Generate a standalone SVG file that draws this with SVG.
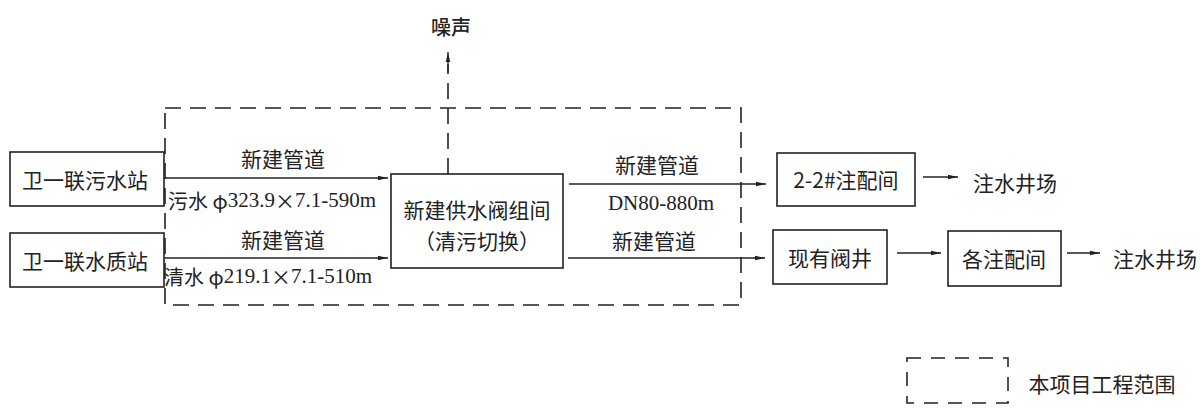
<svg xmlns="http://www.w3.org/2000/svg" width="1200" height="408" viewBox="0 0 1200 408">
<defs>
<style>
.box{fill:#fff;stroke:#222;stroke-width:1.6}
.dash{fill:none;stroke:#222;stroke-width:1.6;stroke-dasharray:16 9}
.ln{fill:none;stroke:#222;stroke-width:1.3}
.t{font-family:"Noto Sans CJK SC","Noto Sans",sans-serif;font-size:21px;fill:#222;text-anchor:middle;dominant-baseline:central}
.s{font-family:"Liberation Serif","Noto Sans CJK SC",serif;font-size:21px;fill:#222;dominant-baseline:central}
.c{font-family:"Noto Sans CJK SC",sans-serif;font-size:20px}
</style>
<marker id="ah" viewBox="0 0 10 6" refX="10" refY="3" markerWidth="10" markerHeight="6" markerUnits="userSpaceOnUse" orient="auto">
<path d="M0,0.8 L10,3 L0,5.2 Z" fill="#222"/>
</marker>
</defs>
<rect width="1200" height="408" fill="#fff"/>
<g id="scope">
<rect x="165" y="108" width="576" height="197" class="dash"/>
</g>
<g id="connectors">
<line x1="448" y1="174" x2="448" y2="64" class="dash"/>
<line x1="448" y1="72" x2="448" y2="52" class="ln" marker-end="url(#ah)"/>
<line x1="164" y1="178" x2="388" y2="178" class="ln" marker-end="url(#ah)"/>
<line x1="164" y1="258" x2="388" y2="258" class="ln" marker-end="url(#ah)"/>
<line x1="569" y1="184" x2="766" y2="184" class="ln" marker-end="url(#ah)"/>
<line x1="568" y1="258" x2="765" y2="258" class="ln" marker-end="url(#ah)"/>
<line x1="923" y1="177" x2="958" y2="177" class="ln" marker-end="url(#ah)"/>
<line x1="897" y1="253" x2="941" y2="253" class="ln" marker-end="url(#ah)"/>
<line x1="1067" y1="253" x2="1100" y2="253" class="ln" marker-end="url(#ah)"/>
<text x="283" y="158" class="t">新建管道</text>
<text x="168" y="200" class="s"><tspan class="c">污水 φ</tspan>323.9<tspan class="c">×</tspan>7.1-590m</text>
<text x="283" y="239" class="t">新建管道</text>
<text x="164" y="276" class="s"><tspan class="c">清水 φ</tspan>219.1<tspan class="c">×</tspan>7.1-510m</text>
<text x="657" y="164" class="t">新建管道</text>
<text x="661" y="203" font-family="Liberation Serif, serif" font-size="21" fill="#222" text-anchor="middle" dominant-baseline="central">DN80-880m</text>
<text x="654" y="240" class="t">新建管道</text>
</g>
<g id="noise"><text x="451" y="26" class="t" style="font-weight:500;font-size:20px">噪声</text></g>
<g id="n1"><rect x="10" y="152" width="154" height="54" class="box"/><text x="85" y="179" class="t">卫一联污水站</text></g>
<g id="n2"><rect x="10" y="233" width="154" height="54" class="box"/><text x="85" y="260" class="t">卫一联水质站</text></g>
<g id="center"><rect x="391" y="174" width="172" height="94" class="box"/><text x="477" y="209" class="t">新建供水阀组间</text><text x="477" y="240" class="t">（清污切换）</text></g>
<g id="n3"><rect x="777" y="153" width="138" height="53" class="box"/><text x="846" y="179" class="t">2-2#注配间</text></g>
<g id="out1"><text x="1015" y="182" class="t">注水井场</text></g>
<g id="n4"><rect x="773" y="230" width="114" height="54" class="box"/><text x="830" y="257" class="t">现有阀井</text></g>
<g id="n5"><rect x="948" y="231" width="113" height="55" class="box"/><text x="1004" y="258" class="t">各注配间</text></g>
<g id="out2"><text x="1155" y="258" class="t">注水井场</text></g>
<g id="legend">
<rect x="907" y="358" width="101" height="45" class="dash" style="stroke-dasharray:14 10"/>
<text x="1102" y="383" class="t">本项目工程范围</text>
</g>
</svg>
